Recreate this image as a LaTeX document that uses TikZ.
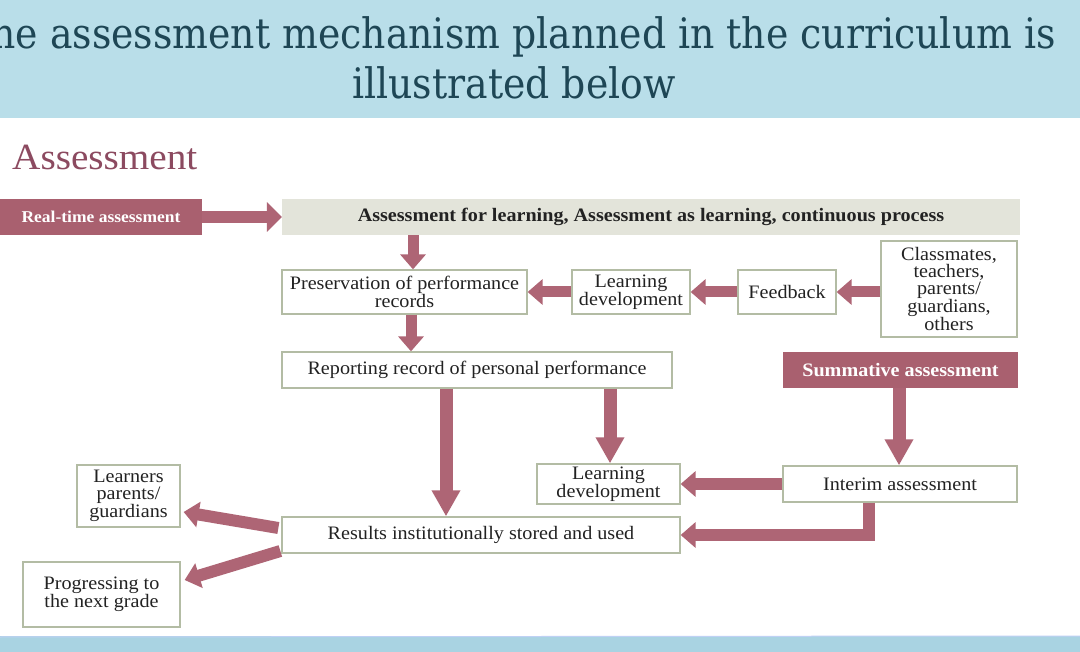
\documentclass[tikz,border=0pt]{standalone}
\usepackage{fontspec}
\setmainfont{Liberation Serif}[FakeStretch=1.06]
\newfontfamily\titlefont{DejaVu Serif}[FakeStretch=0.9]
\usetikzlibrary{arrows.meta}
\definecolor{mauve}{HTML}{AE6575}
\definecolor{boxfill}{HTML}{A9606F}
\definecolor{boxline}{HTML}{B3BCA4}
\definecolor{aflfill}{HTML}{E3E4DA}
\definecolor{headc}{HTML}{8C4A60}
\definecolor{titlec}{HTML}{1E4655}
\definecolor{band}{HTML}{B9DEE9}
\definecolor{bandlow}{HTML}{A9D3E2}
\definecolor{txt}{HTML}{222222}
\begin{document}
\begin{tikzpicture}[x=1pt,y=-1pt,
  box/.style={draw=boxline,line width=1.3pt,fill=white,inner sep=0pt,align=center,
    text=txt,font=\fontsize{19}{17}\selectfont},
  filledbox/.style={fill=boxfill,inner sep=0pt,align=center,text=white,
    font=\bfseries\fontsize{19}{20}\selectfont},
  arr/.style={draw=mauve,line width=11pt,-{Triangle[length=15pt,width=25pt]}},
  bigarr/.style={draw=mauve,line width=13pt,-{Triangle[length=26pt,width=27pt]}}
]
\useasboundingbox (0,0) rectangle (1080,652);
\fill[white] (0,0) rectangle (1080,652);
% title band
\fill[band] (0,0) rectangle (1080,118);
\begin{scope}
\clip (0,0) rectangle (1080,118);
\node[text=titlec,font=\titlefont\fontsize{42}{46}\selectfont,anchor=center] (t1) at (511,37) {The assessment mechanism planned in the curriculum is};
\node[text=titlec,font=\titlefont\fontsize{42}{46}\selectfont,anchor=center] (t2) at (514,83) {illustrated below};
\end{scope}
% bottom band
\fill[bandlow] (0,636) rectangle (1080,652);
\draw[color=band!80!blue!60!white,line width=1pt] (0,637) -- (1080,636);
% heading
\node[text=headc,font=\fontsize{37}{40}\selectfont,anchor=west,inner sep=0pt] (head) at (12,157) {Assessment};
% nodes
\node[filledbox,minimum width=202pt,minimum height=36pt,font=\bfseries\fontsize{16.5}{20}\selectfont] (rt) at (101,217) {Real-time assessment};
\node[fill=aflfill,inner sep=0pt,minimum width=738pt,minimum height=36pt,text=txt,font=\bfseries\fontsize{19}{20}\selectfont] (afl) at (651,217) {Assessment for learning, Assessment as learning, continuous process};
\node[box,minimum width=245pt,minimum height=44pt] (pres) at (404.5,292) {Preservation of performance\\records};
\node[box,minimum width=118pt,minimum height=44pt] (ld1) at (631,292) {Learning\\development};
\node[box,minimum width=98pt,minimum height=44pt] (fb) at (787,292) {Feedback};
\node[box,minimum width=136pt,minimum height=96pt] (cm) at (949,289) {Classmates,\\teachers,\\parents/\\guardians,\\others};
\node[box,minimum width=390pt,minimum height=36pt] (rep) at (477,370) {Reporting record of personal performance};
\node[filledbox,minimum width=235pt,minimum height=36pt] (sum) at (900.5,370) {Summative assessment};
\node[box,minimum width=143pt,minimum height=40pt] (ld2) at (608.5,484) {Learning\\development};
\node[box,minimum width=234pt,minimum height=36pt] (int) at (900,484) {Interim assessment};
\node[box,minimum width=398pt,minimum height=36pt] (res) at (481,535) {Results institutionally stored and used};
\node[box,minimum width=103pt,minimum height=62pt] (lrn) at (128.5,496) {Learners\\parents/\\guardians};
\node[box,minimum width=157pt,minimum height=65pt] (prog) at (101.5,594.5) {Progressing to\\the next grade};
% connectors
\draw[draw=mauve,line width=12pt,-{Triangle[length=15pt,width=29pt]}] (rt) -- (afl);
\draw[arr] ([xshift=-238pt]afl.south) -- ([xshift=8.5pt]pres.north);
\draw[arr] ([xshift=6.5pt]pres.south) -- ([xshift=-66pt]rep.north);
\draw[arr] (ld1.west) -- (pres.east);
\draw[arr] (fb.west) -- (ld1.east);
\draw[arr] (cm.west |- fb) -- (fb.east);
\draw[bigarr] ([xshift=-31pt]rep.south) -- ([xshift=-35pt]res.north);
\draw[bigarr] ([xshift=133pt]rep.south) -- ([xshift=1.5pt]ld2.north);
\draw[bigarr] ([xshift=-1.5pt]sum.south) -- ([xshift=-1pt]int.north);
\draw[arr,line width=12pt] (int.west) -- (ld2.east);
\draw[arr,line width=12pt] ([xshift=-31pt]int.south) |- (res.east);
\draw[arr,line width=12pt] ([xshift=-3pt,yshift=7pt]res.west) -- ([xshift=3pt,yshift=-16pt]lrn.east);
\draw[arr,line width=12pt] ([xshift=-1pt,yshift=-16pt]res.west) -- ([xshift=4pt,yshift=14.5pt]prog.east);
\end{tikzpicture}
\end{document}
